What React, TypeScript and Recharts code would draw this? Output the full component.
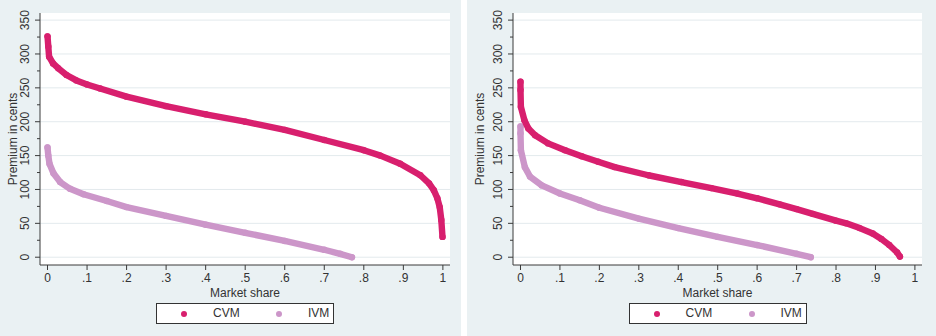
import { CartesianGrid, ComposedChart, Scatter, XAxis, YAxis } from 'recharts'

// market share (x) and premium in cents (y)
const shareCvmA = [0, 0.002, 0.004, 0.014, 0.027, 0.048, 0.073, 0.1, 0.133, 0.2, 0.3, 0.4, 0.5, 0.6, 0.7, 0.8, 0.842, 0.892, 0.943, 0.965, 0.977, 0.986, 0.992, 0.996, 0.999]
const premCvmA = [326, 311, 296, 286, 279, 269, 261, 255, 249, 237, 223, 211, 200, 188, 173, 158, 150, 138, 121, 109, 99, 87, 74, 55, 30]
const shareIvmA = [0, 0.002, 0.005, 0.015, 0.032, 0.057, 0.091, 0.15, 0.2, 0.3, 0.4, 0.5, 0.6, 0.7, 0.74, 0.77]
const premIvmA = [162, 150, 138, 124, 111, 101, 93, 83, 74, 61, 48, 36, 24, 11, 5, 0]

const shareCvmB = [0, 0, 0.001, 0.01, 0.02, 0.037, 0.07, 0.113, 0.155, 0.197, 0.239, 0.324, 0.408, 0.484, 0.55, 0.6, 0.657, 0.7, 0.741, 0.8, 0.826, 0.86, 0.893, 0.915, 0.935, 0.955, 0.962]
const premCvmB = [259, 247, 222, 202, 190, 180, 168, 158, 149, 141, 133, 121, 111, 102, 94, 87, 78, 71, 64, 54, 50, 43, 35, 27, 18, 7, 1]
const shareIvmB = [0, 0, 0.001, 0.011, 0.024, 0.054, 0.1, 0.15, 0.2, 0.3, 0.4, 0.5, 0.6, 0.7, 0.736]
const premIvmB = [193, 183, 158, 133, 119, 106, 94, 84, 73, 57, 43, 30, 18, 5, 0]

const xTicks = [0, 0.1, 0.2, 0.3, 0.4, 0.5, 0.6, 0.7, 0.8, 0.9, 1]
const yTicks = [0, 25, 50, 75, 100, 125, 150, 175, 200, 225, 250, 275, 300, 325, 350]
const yGrid = [0, 50, 100, 150, 200, 250, 300, 350]
const seriesNames = ['CVM', 'IVM']

const CVM_COLOR = '#d81f6e'
const IVM_COLOR = '#cc96c9'
const AXIS = '#3a3a3a'
const BG = '#eaf1f3'

const toPoints = (xs: number[], ys: number[]) => xs.map((x, i) => ({ x, y: ys[i] }))

const fmtShare = (v: number) => (v === 0 ? '0' : v === 1 ? '1' : String(v).replace('0.', '.'))

const YTick = (props: any) => {
  const { x, y, payload } = props
  const major = payload.value % 50 === 0
  const tx = x - 15
  return (
    <g>
      <line x1={x - (major ? 5 : 3)} x2={x} y1={y} y2={y} stroke={AXIS} />
      {major && (
        <text
          x={tx}
          y={y}
          transform={`rotate(-90 ${tx} ${y})`}
          textAnchor='middle'
          dominantBaseline='central'
          fontSize={12}
          fill='#333'
        >
          {payload.value}
        </text>
      )}
    </g>
  )
}

const Dot = (color: string) => (p: any) => <circle cx={p.cx} cy={p.cy} r={3.2} fill={color} />

type PanelProps = {
  left: number
  width: number
  axisWidth: number
  cvm: { x: number; y: number }[]
  ivm: { x: number; y: number }[]
}

const Panel = ({ left, width, axisWidth, cvm, ivm }: PanelProps) => {
  const marginRight = width === 461 ? 11 : 14
  const plotLeft = axisWidth
  const plotRight = width - marginRight
  const legendW = 178
  const legendLeft = (plotLeft + plotRight) / 2 - legendW / 2
  return (
    <div style={{ position: 'absolute', left, top: 0, width, height: 336, background: BG }}>
      <ComposedChart width={width} height={336} margin={{ top: 13, right: marginRight, left: 0, bottom: 31 }}>
        <CartesianGrid fill='#fff' vertical={false} horizontalValues={yGrid} stroke='#e3eaed' />
        <XAxis
          type='number'
          dataKey='x'
          domain={[-0.019, 1.018]}
          allowDataOverflow
          ticks={xTicks}
          interval={0}
          tickFormatter={fmtShare}
          tickSize={5}
          tickMargin={3}
          height={40}
          stroke={AXIS}
          tick={{ fontSize: 12, fill: '#333' }}
          label={{ value: 'Market share', position: 'insideBottom', offset: 8, fontSize: 12, fill: '#333' }}
        />
        <YAxis
          type='number'
          dataKey='y'
          domain={[-11.5, 360.5]}
          allowDataOverflow
          ticks={yTicks}
          interval={0}
          width={axisWidth}
          tickSize={0}
          tickMargin={0}
          tickLine={false}
          stroke={AXIS}
          tick={<YTick />}
          label={({ viewBox }: any) => {
            const cx = viewBox.x + 13
            const cy = viewBox.y + viewBox.height / 2
            return (
              <text
                x={cx}
                y={cy}
                transform={`rotate(-90 ${cx} ${cy})`}
                textAnchor='middle'
                dominantBaseline='central'
                fontSize={12}
                fill='#333'
              >
                Premium in cents
              </text>
            )
          }}
        />
        <Scatter
          name='IVM'
          data={ivm}
          fill={IVM_COLOR}
          shape={Dot(IVM_COLOR)}
          line={{ stroke: IVM_COLOR, strokeWidth: 6.4, strokeLinejoin: 'round', strokeLinecap: 'round' }}
          isAnimationActive={false}
        />
        <Scatter
          name='CVM'
          data={cvm}
          fill={CVM_COLOR}
          shape={Dot(CVM_COLOR)}
          line={{ stroke: CVM_COLOR, strokeWidth: 6.4, strokeLinejoin: 'round', strokeLinecap: 'round' }}
          isAnimationActive={false}
        />
      </ComposedChart>
      <div
        style={{
          position: 'absolute',
          left: legendLeft,
          top: 303,
          width: legendW,
          height: 21,
          boxSizing: 'border-box',
          border: '1px solid #333',
          background: '#fff',
          fontSize: 12,
          color: '#333',
        }}
      >
        {seriesNames.map((name, i) => (
          <div key={name}>
            <span
              style={{
                position: 'absolute',
                left: (i === 0 ? 27 : 122) - 3,
                top: 7,
                width: 6,
                height: 6,
                borderRadius: 3,
                background: i === 0 ? CVM_COLOR : IVM_COLOR,
              }}
            />
            <span style={{ position: 'absolute', left: i === 0 ? 56 : 151, top: 2, lineHeight: '14px' }}>{name}</span>
          </div>
        ))}
      </div>
    </div>
  )
}

export default function App() {
  return (
    <div
      style={{
        position: 'relative',
        width: 936,
        height: 336,
        background: '#fff',
        fontFamily: '"Liberation Sans", Arial, sans-serif',
      }}
    >
      <style>{'body{margin:0}'}</style>
      <Panel left={0} width={461} axisWidth={40} cvm={toPoints(shareCvmA, premCvmA)} ivm={toPoints(shareIvmA, premIvmA)} />
      <Panel left={467} width={469} axisWidth={46} cvm={toPoints(shareCvmB, premCvmB)} ivm={toPoints(shareIvmB, premIvmB)} />
    </div>
  )
}
